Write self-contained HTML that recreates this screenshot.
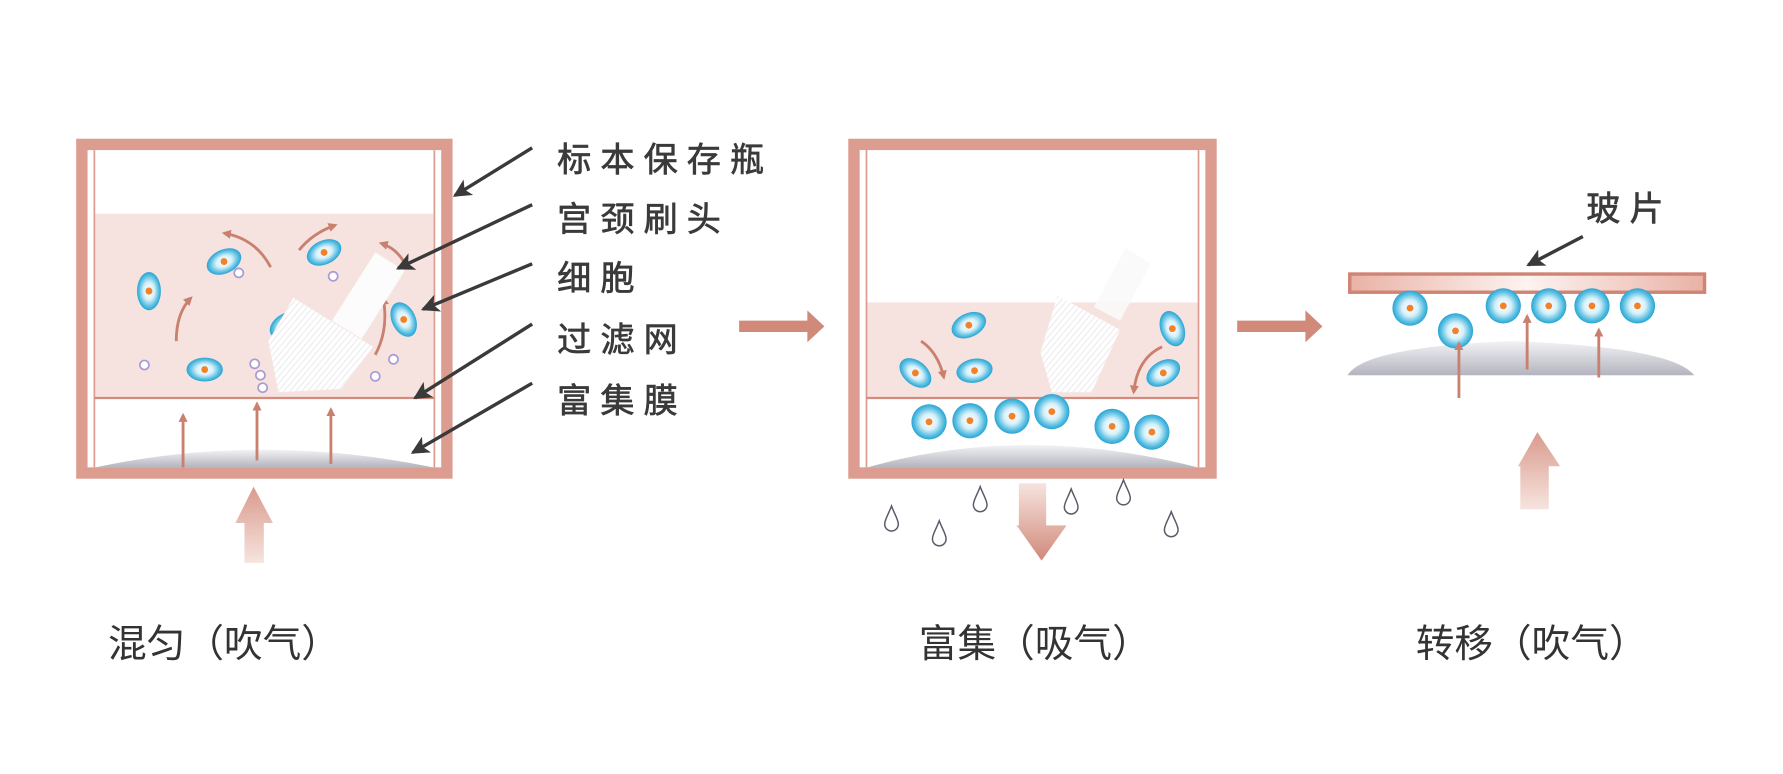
<!DOCTYPE html>
<html><head><meta charset="utf-8"><style>
html,body{margin:0;padding:0;background:#fff;}
svg{display:block}
text{font-family:"Liberation Sans","Noto Sans CJK SC",sans-serif;}
</style></head><body>
<svg width="1783" height="774" viewBox="0 0 1568 680.7" preserveAspectRatio="none" xmlns="http://www.w3.org/2000/svg">
<defs>
<radialGradient id="cell" cx="50%" cy="50%" r="50%">
<stop offset="0" stop-color="#ffffff"/><stop offset="0.45" stop-color="#d8f1fa"/><stop offset="0.8" stop-color="#5bc0e2"/><stop offset="1" stop-color="#2aa3d3"/>
</radialGradient>
<linearGradient id="dome" x1="0" y1="0" x2="0" y2="1">
<stop offset="0" stop-color="#f2f2f5"/><stop offset="0.5" stop-color="#d3d3da"/><stop offset="1" stop-color="#b4b4bf"/>
</linearGradient>
<linearGradient id="bigup" x1="0" y1="0" x2="0" y2="1">
<stop offset="0" stop-color="#d99a8c"/><stop offset="1" stop-color="#f6e4df"/>
</linearGradient>
<linearGradient id="bigdown" x1="0" y1="0" x2="0" y2="1">
<stop offset="0" stop-color="#f6e4df"/><stop offset="1" stop-color="#d1897a"/>
</linearGradient>
<linearGradient id="slide" x1="0" y1="0" x2="1" y2="0">
<stop offset="0" stop-color="#e9b2a6"/><stop offset="0.5" stop-color="#fdf3f0"/><stop offset="1" stop-color="#e9b2a6"/>
</linearGradient>
<pattern id="stripe" width="4" height="4" patternUnits="userSpaceOnUse" patternTransform="rotate(40)">
<rect width="4" height="4" fill="#fff"/><rect width="1" height="4" fill="#ececf0"/>
</pattern>
<marker id="ah" markerWidth="8" markerHeight="8" refX="6" refY="4" orient="auto" markerUnits="userSpaceOnUse"><path d="M0,0 L8,4 L0,8 Z" fill="#c9806f"/></marker>
<marker id="ahd" markerWidth="18" markerHeight="16" refX="14" refY="8" orient="auto" markerUnits="userSpaceOnUse"><path d="M0,0 L16,8 L0,16 L4,8 Z" fill="#3a3a3a"/></marker>
<g id="c"><ellipse rx="16" ry="10.5" fill="url(#cell)"/><circle r="3" fill="#f0822a"/></g>
<g id="cr"><circle r="15.5" fill="url(#cell)"/><circle r="3" fill="#f0822a"/></g>
<g id="sm"><circle r="4" fill="#fff" stroke="#a99bd6" stroke-width="1.5"/></g>
<path id="drop" d="M0,-12 C3,-4 6,0 6,4 A6,6 0 0 1 -6,4 C-6,0 -3,-4 0,-12 Z" fill="#fff" stroke="#5a5a6a" stroke-width="1.3"/>
</defs>

<rect x="72" y="127" width="321" height="289" fill="#fff" stroke="#dc9c90" stroke-width="10"/>
<rect x="83" y="188" width="298" height="162" fill="#f6e3df"/>
<line x1="83" y1="132" x2="83" y2="411" stroke="#dc9c90" stroke-width="1.5"/>
<line x1="382" y1="132" x2="382" y2="411" stroke="#dc9c90" stroke-width="1.5"/>
<line x1="83" y1="350" x2="382" y2="350" stroke="#d48a7c" stroke-width="2"/>
<path d="M84,411 Q230,380 381,411 Z" fill="url(#dome)"/>
<g stroke="#c9806f" stroke-width="2.5" fill="none" marker-end="url(#ah)">
<line x1="161" y1="411" x2="161" y2="365"/><line x1="226" y1="405" x2="226" y2="355"/><line x1="291" y1="408" x2="291" y2="360"/>
<path d="M155,300 Q155,275 168,262"/><path d="M238,235 Q225,210 197,205"/><path d="M263,220 Q275,205 295,198"/>
<path d="M330,312 Q342,290 337,262"/><path d="M355,230 Q348,218 335,214"/>
</g>
<use href="#c" transform="translate(131,256) rotate(90) scale(1.05,1)"/>
<use href="#c" transform="translate(197,230) rotate(-25)"/>
<use href="#c" transform="translate(285,222) rotate(-25)"/>
<use href="#c" transform="translate(180,325)"/>
<use href="#c" transform="translate(252,286) rotate(-30)"/>
<use href="#c" transform="translate(355,281) rotate(65)"/>
<use href="#sm" x="210" y="240"/><use href="#sm" x="293" y="243"/><use href="#sm" x="127" y="321"/>
<use href="#sm" x="224" y="320"/><use href="#sm" x="229" y="330"/><use href="#sm" x="231" y="341"/>
<use href="#sm" x="346" y="316"/><use href="#sm" x="330" y="331"/>
<polygon points="330,222 356,238 318,298 292,282" fill="#fcfcfc"/>
<polygon points="258,262 328,305 300,342 245,345 236,300" fill="url(#stripe)"/>

<g stroke="#3a3a3a" stroke-width="3" marker-end="url(#ahd)">
<line x1="468" y1="130" x2="400" y2="172"/>
<line x1="468" y1="180" x2="350" y2="236"/>
<line x1="468" y1="232" x2="372" y2="272"/>
<line x1="468" y1="285" x2="365" y2="350"/>
<line x1="468" y1="337" x2="363" y2="398"/>
<line x1="1392" y1="208" x2="1344" y2="233"/>
</g>
<g fill="#3a3a3a" font-size="30" letter-spacing="8" stroke="#3a3a3a" stroke-width="0.6">
<text x="490" y="151">标本保存瓶</text>
<text x="490" y="203">宫颈刷头</text>
<text x="490" y="255">细胞</text>
<text x="490" y="309">过滤网</text>
<text x="490" y="363">富集膜</text>
<text x="1395" y="194">玻片</text>
</g>

<polygon points="207,460 223,428 240,460 232,460 232,495 215,495 215,460" fill="url(#bigup)"/>
<polygon points="896,425 920,425 920,462 938,462 916,493 894,462 896,462" fill="url(#bigdown)"/>
<polygon points="1335,410 1352,380 1372,410 1362,410 1362,448 1337,448 1337,410 " fill="url(#bigup)"/>
<polygon points="650,282 710,282 710,273 725,287 710,301 710,292 650,292" fill="#d1897a"/>
<polygon points="1088,282 1148,282 1148,273 1163,287 1148,301 1148,292 1088,292" fill="#d1897a"/>

<rect x="751" y="127" width="314" height="289" fill="#fff" stroke="#dc9c90" stroke-width="10"/>
<rect x="762" y="266" width="292" height="84" fill="#f6e3df"/>
<line x1="762" y1="132" x2="762" y2="411" stroke="#dc9c90" stroke-width="1.5"/>
<line x1="1054" y1="132" x2="1054" y2="411" stroke="#dc9c90" stroke-width="1.5"/>
<line x1="762" y1="350" x2="1054" y2="350" stroke="#d48a7c" stroke-width="2"/>
<path d="M763,411 Q900,372 1053,411 Z" fill="url(#dome)"/>
<polygon points="990,218 1012,232 985,282 962,270" fill="#fafafa" opacity="0.9"/>
<polygon points="930,260 985,290 960,345 925,345 915,310" fill="url(#stripe)"/>
<g stroke="#c9806f" stroke-width="2.5" fill="none" marker-end="url(#ah)">
<path d="M810,300 Q825,310 830,332"/><path d="M1022,305 Q1000,315 997,345"/>
</g>
<use href="#c" transform="translate(852,286) rotate(-25)"/>
<use href="#c" transform="translate(805,328) rotate(40)"/>
<use href="#c" transform="translate(857,326) rotate(-10)"/>
<use href="#c" transform="translate(1031,289) rotate(70)"/>
<use href="#c" transform="translate(1023,328) rotate(-30)"/>
<use href="#cr" x="817" y="371"/><use href="#cr" x="853" y="370"/><use href="#cr" x="890" y="366"/>
<use href="#cr" x="925" y="362"/><use href="#cr" x="978" y="375"/><use href="#cr" x="1013" y="380"/>
<use href="#drop" x="784" y="457"/><use href="#drop" x="826" y="470"/><use href="#drop" x="862" y="440"/>
<use href="#drop" x="942" y="442"/><use href="#drop" x="988" y="434"/><use href="#drop" x="1030" y="462"/>

<rect x="1187" y="241" width="312" height="16" fill="url(#slide)" stroke="#cf8474" stroke-width="3"/>
<path d="M1185,330 Q1200,305 1330,300 Q1470,305 1490,330 Z" fill="url(#dome)"/>
<use href="#cr" x="1240" y="271"/><use href="#cr" x="1322" y="269"/><use href="#cr" x="1362" y="269"/>
<use href="#cr" x="1400" y="269"/><use href="#cr" x="1440" y="269"/><use href="#cr" x="1280" y="291"/>
<g stroke="#c9806f" stroke-width="2.5" fill="none" marker-end="url(#ah)">
<line x1="1283" y1="350" x2="1283" y2="302"/><line x1="1343" y1="325" x2="1343" y2="278"/><line x1="1406" y1="332" x2="1406" y2="290"/>
</g>

<g fill="#333" font-size="34">
<text x="95" y="578">混匀（吹气）</text>
<text x="808" y="578">富集（吸气）</text>
<text x="1245" y="578">转移（吹气）</text>
</g>
</svg>
</body></html>
